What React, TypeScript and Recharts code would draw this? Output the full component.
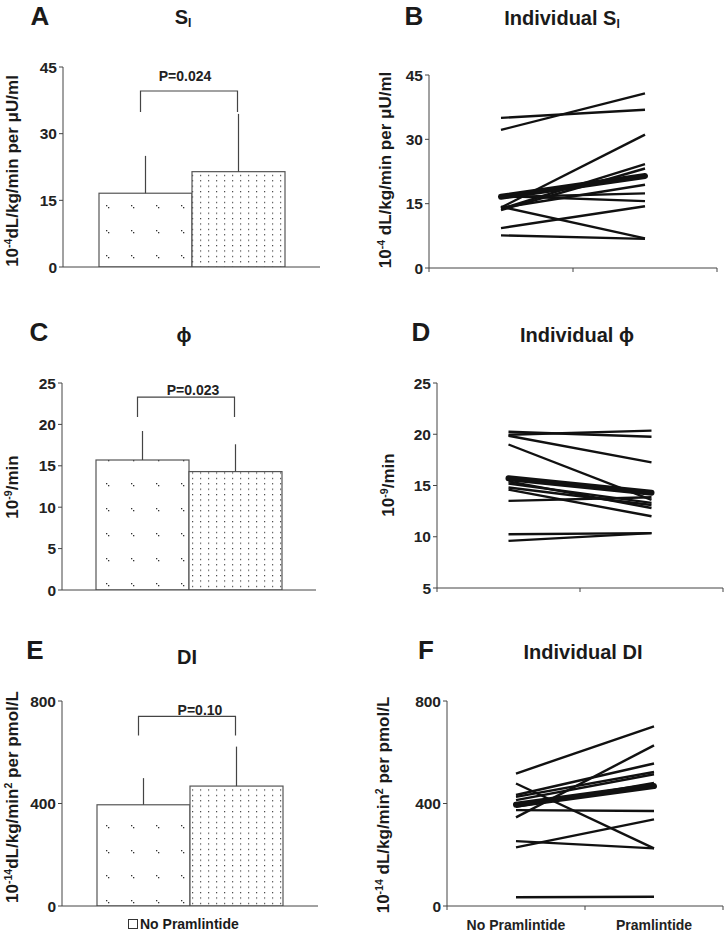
import React from 'react';
import { BarChart, Bar, ErrorBar, XAxis, YAxis, LineChart, Line } from 'recharts';

const FONT = "'Liberation Sans', Arial, Helvetica, sans-serif";
const INK = '#111';
const AXIS = '#444';

// ---------- data ----------
const conditions = ['No Pramlintide', 'Pramlintide'];

// S_I (10^-4 dL/kg/min per uU/ml)
const siMean = [16.6, 21.45];
const siErr = [8.4, 13.0];
const siBracket = [39.6, 34.9, 41.9]; // bar top, leg end, label baseline
const siP = 'P=0.024';
const siTicks = [0, 15, 30, 45];
const siNoPram = [35.0, 32.2, 14.1, 13.8, 13.5, 16.8, 16.5, 14.0, 14.3, 9.3, 7.6];
const siPram = [36.9, 40.7, 31.1, 24.2, 23.2, 15.6, 17.4, 19.4, 6.9, 14.4, 6.8];

// phi (10^-9/min)
const phiMean = [15.7, 14.3];
const phiErr = [3.5, 3.3];
const phiBracket = [23.3, 20.9, 23.55];
const phiP = 'P=0.023';
const phiBarTicks = [0, 5, 10, 15, 20, 25];
const phiLineTicks = [5, 10, 15, 20, 25];
const phiNoPram = [20.25, 19.95, 19.85, 19.0, 15.4, 15.2, 14.8, 14.6, 13.5, 10.25, 9.6];
const phiPram = [19.75, 20.35, 17.25, 13.6, 12.8, 13.3, 13.1, 12.0, 13.85, 10.35, 10.35];

// DI (10^-14 dL/kg/min^2 per pmol/L)
const diMean = [395, 468];
const diErr = [104, 154];
const diBracket = [740, 665, 747];
const diP = 'P=0.10';
const diTicks = [0, 400, 800];
const diNoPram = [517, 478, 433, 426, 413, 387, 374, 346, 253, 229, 34];
const diPram = [701, 225, 556, 523, 514, 480, 371, 627, 225, 338, 36];

// ---------- helpers ----------
const YW = 40;

type Box = { left: number; top: number; width: number; height: number };
type Plot = { left: number; right: number; top: number; bottom: number };

function marginsFor(box: Box, plot: Plot, xh: number) {
  return {
    left: plot.left - box.left - YW,
    top: plot.top - box.top,
    right: box.left + box.width - plot.right,
    bottom: box.top + box.height - plot.bottom - xh,
  };
}

const tickStyle = { fontSize: 15.5, fontWeight: 'bold' as const, fill: '#222', fontFamily: FONT };

function BarPanel(props: {
  id: string; box: Box; plot: Plot; means: number[]; errs: number[];
  bracket: number[]; pText: string; pShift: number; domain: [number, number]; ticks: number[];
  phase: [number, number];
}) {
  const { id, box, plot, means, errs, bracket, pText, pShift, domain, ticks, phase } = props;
  const XH = 5;
  const data = [{ name: 'group', none: means[0], pram: means[1], noneErr: [0, errs[0]], pramErr: [0, errs[1]] }];
  const sparse = `sparse-${id}`;
  const dense = `dense-${id}`;
  const shape1 = (p: any) => (
    <rect x={p.x} y={p.y} width={p.width} height={p.height} fill={`url(#${sparse})`} stroke="#555" strokeWidth={1.2} />
  );
  const shape2 = (p: any) => {
    const v = p.payload.pram;
    const base = p.y + p.height;
    const ppu = p.height / v;
    const yTop = base - bracket[0] * ppu;
    const yLeg = base - bracket[1] * ppu;
    const yLab = base - bracket[2] * ppu;
    const c1 = p.x - p.width / 2 - 5;
    const c2 = p.x + p.width / 2 - 1;
    return (
      <g>
        <rect x={p.x} y={p.y} width={p.width} height={p.height} fill={`url(#${dense})`} stroke="#555" strokeWidth={1.2} />
        <path d={`M${c1},${yLeg}V${yTop}H${c2}V${yLeg}`} fill="none" stroke={AXIS} strokeWidth={1.2} />
        <text x={(c1 + c2) / 2 + pShift} y={yLab} textAnchor="middle" fontSize={14} fontWeight="bold" fill="#222" fontFamily={FONT}>{pText}</text>
      </g>
    );
  };
  return (
    <div style={{ position: 'absolute', left: box.left, top: box.top }}>
      <BarChart width={box.width} height={box.height} data={data} margin={marginsFor(box, plot, XH)} barGap={0} barSize={93}>
        <defs>
          <pattern id={sparse} patternUnits="userSpaceOnUse" width={25} height={25} x={phase[0]} y={phase[1]}>
            <rect width={25} height={25} fill="#fff" />
            <rect x={0} y={0} width={1.3} height={1.3} fill="#333" />
            <rect x={2} y={2} width={1.3} height={1.3} fill="#333" />
          </pattern>
          <pattern id={dense} patternUnits="userSpaceOnUse" width={8} height={5.4} x={phase[0] + 2} y={phase[1] + 1}>
            <rect width={8} height={5.4} fill="#fff" />
            <rect x={0} y={0} width={1.2} height={1.2} fill="#444" />
          </pattern>
        </defs>
        <XAxis dataKey="name" tick={false} tickLine={false} height={XH} stroke={AXIS} />
        <YAxis width={YW} domain={domain} ticks={ticks} interval={0} tickSize={4} stroke={AXIS} tick={tickStyle} allowDataOverflow />
        <Bar dataKey="none" shape={shape1} isAnimationActive={false}>
          <ErrorBar dataKey="noneErr" width={0} stroke={AXIS} strokeWidth={1.2} direction="y" />
        </Bar>
        <Bar dataKey="pram" shape={shape2} isAnimationActive={false}>
          <ErrorBar dataKey="pramErr" width={0} stroke={AXIS} strokeWidth={1.2} direction="y" />
        </Bar>
      </BarChart>
    </div>
  );
}

function ConditionTick(props: any) {
  const { x, y, payload, showLabels } = props;
  const v = payload.value as number;
  if (Number.isInteger(v)) {
    return <line x1={x} x2={x} y1={y - 4} y2={y} stroke={AXIS} strokeWidth={1} />;
  }
  if (!showLabels) return <g />;
  return (
    <text x={x} y={y + 20} textAnchor="middle" fontSize={14} fontWeight="bold" fill="#222" fontFamily={FONT}>
      {conditions[Math.floor(v)]}
    </text>
  );
}

function LinePanel(props: {
  box: Box; plot: Plot; noPram: number[]; pram: number[]; mean: number[];
  domain: [number, number]; ticks: number[]; showLabels: boolean;
}) {
  const { box, plot, noPram, pram, mean, domain, ticks, showLabels } = props;
  const XH = showLabels ? 28 : 10;
  const rows = conditions.map((c, i) => {
    const row: any = { x: i + 0.5, condition: c, mean: mean[i] };
    noPram.forEach((v, k) => { row[`s${k}`] = i === 0 ? v : pram[k]; });
    return row;
  });
  return (
    <div style={{ position: 'absolute', left: box.left, top: box.top }}>
      <LineChart width={box.width} height={box.height} data={rows} margin={marginsFor(box, plot, XH)}>
        <XAxis type="number" dataKey="x" domain={[0, 2]} ticks={[0, 0.5, 1, 1.5, 2]} interval={0}
          tickLine={false} tickSize={4} tickMargin={0} height={XH} stroke={AXIS}
          tick={(p: any) => <ConditionTick {...p} showLabels={showLabels} />} />
        <YAxis width={YW} domain={domain} ticks={ticks} interval={0} tickSize={4} stroke={AXIS} tick={tickStyle} allowDataOverflow />
        {noPram.map((_, k) => (
          <Line key={k} dataKey={`s${k}`} stroke={INK} strokeWidth={2.4} dot={false} activeDot={false} isAnimationActive={false} />
        ))}
        <Line dataKey="mean" stroke={INK} strokeWidth={6} strokeLinecap="round" dot={false} activeDot={false} isAnimationActive={false} />
      </LineChart>
    </div>
  );
}

function Txt(props: { x: number; y: number; size: number; children: React.ReactNode; rotate?: boolean }) {
  const { x, y, size, children, rotate } = props;
  return (
    <div style={{
      position: 'absolute', left: x, top: y, fontSize: size, fontWeight: 'bold', fontFamily: FONT,
      color: '#1a1a1a', lineHeight: 1, whiteSpace: 'nowrap',
      transform: rotate ? 'translate(-50%, -50%) rotate(-90deg)' : 'translate(-50%, -50%)',
    }}>{children}</div>
  );
}

const Sup = ({ children }: { children: React.ReactNode }) => (
  <span style={{ fontSize: '0.62em', verticalAlign: '0.55em' }}>{children}</span>
);
const Sub = ({ children }: { children: React.ReactNode }) => (
  <span style={{ fontSize: '0.6em', verticalAlign: '-0.3em' }}>{children}</span>
);

export default function App() {
  return (
    <div style={{ position: 'absolute', left: 0, top: 0, width: 727, height: 935, background: '#fff', overflow: 'hidden' }}>
      {/* panel letters */}
      <Txt x={40} y={16} size={26}>A</Txt>
      <Txt x={414} y={16} size={26}>B</Txt>
      <Txt x={39} y={332} size={26}>C</Txt>
      <Txt x={421} y={332} size={26}>D</Txt>
      <Txt x={35} y={650} size={26}>E</Txt>
      <Txt x={426} y={650} size={26}>F</Txt>

      {/* titles */}
      <Txt x={183} y={18} size={20}>S<Sub>I</Sub></Txt>
      <Txt x={562} y={19} size={20}>Individual S<Sub>I</Sub></Txt>
      <Txt x={184} y={335} size={20}>ϕ</Txt>
      <Txt x={577} y={335} size={20}>Individual ϕ</Txt>
      <Txt x={187} y={657} size={20}>DI</Txt>
      <Txt x={583} y={652} size={20}>Individual DI</Txt>

      {/* y-axis titles */}
      <Txt x={12} y={171} size={17} rotate>10<Sup>-4</Sup>dL/kg/min per μU/ml</Txt>
      <Txt x={385} y={170} size={17} rotate>10<Sup>-4</Sup> dL/kg/min per μU/ml</Txt>
      <Txt x={12} y={487} size={17} rotate>10<Sup>-9</Sup>/min</Txt>
      <Txt x={388} y={485} size={17} rotate>10<Sup>-9</Sup>/min</Txt>
      <Txt x={12} y={797} size={17} rotate>10<Sup>-14</Sup>dL/kg/min<Sup>2</Sup> per pmol/L</Txt>
      <Txt x={383} y={805} size={17} rotate>10<Sup>-14</Sup> dL/kg/min<Sup>2</Sup> per pmol/L</Txt>

      <BarPanel id="a" box={{ left: 0, top: 40, width: 360, height: 250 }} plot={{ left: 63, right: 320, top: 67, bottom: 267 }}
        means={siMean} errs={siErr} bracket={siBracket} pText={siP} pShift={-4} domain={[0, 45]} ticks={siTicks} phase={[6, 15]} />
      <LinePanel box={{ left: 360, top: 40, width: 367, height: 250 }} plot={{ left: 429, right: 717, top: 75, bottom: 268 }}
        noPram={siNoPram} pram={siPram} mean={siMean} domain={[0, 45]} ticks={siTicks} showLabels={false} />

      <BarPanel id="c" box={{ left: 0, top: 350, width: 360, height: 260 }} plot={{ left: 62, right: 316, top: 383, bottom: 590 }}
        means={phiMean} errs={phiErr} bracket={phiBracket} pText={phiP} pShift={7} domain={[0, 25]} ticks={phiBarTicks} phase={[6, 8]} />
      <LinePanel box={{ left: 360, top: 350, width: 367, height: 260 }} plot={{ left: 437, right: 723, top: 383, bottom: 588 }}
        noPram={phiNoPram} pram={phiPram} mean={phiMean} domain={[5, 25]} ticks={phiLineTicks} showLabels={false} />

      <BarPanel id="e" box={{ left: 0, top: 670, width: 360, height: 265 }} plot={{ left: 62, right: 318, top: 701, bottom: 906 }}
        means={diMean} errs={diErr} bracket={diBracket} pText={diP} pShift={13} domain={[0, 800]} ticks={diTicks} phase={[6, 5]} />
      <LinePanel box={{ left: 360, top: 670, width: 367, height: 265 }} plot={{ left: 447, right: 723, top: 701, bottom: 906 }}
        noPram={diNoPram} pram={diPram} mean={diMean} domain={[0, 800]} ticks={diTicks} showLabels />

      {/* legend (first item only visible, as in the source) */}
      <div style={{ position: 'absolute', left: 128, top: 917, display: 'flex', alignItems: 'center', fontFamily: FONT, fontWeight: 'bold', fontSize: 14, color: '#1a1a1a', lineHeight: 1 }}>
        <span style={{ display: 'inline-block', width: 8, height: 8, border: '1px solid #333', marginRight: 2, background: '#fff' }} />
        <span>{conditions[0]}</span>
      </div>
    </div>
  );
}
